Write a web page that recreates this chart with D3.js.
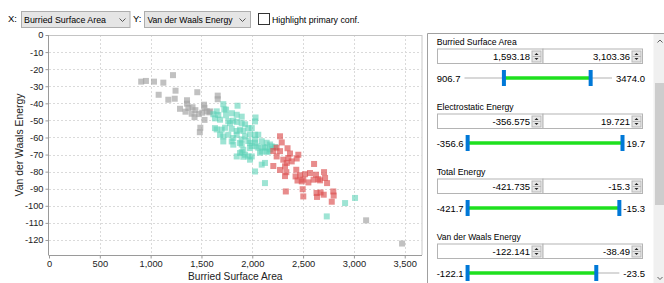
<!DOCTYPE html>
<html><head><meta charset="utf-8">
<script src="https://cdn.jsdelivr.net/npm/d3@7"></script>
<style>
html,body{margin:0;padding:0;background:#fff;overflow:hidden;}
svg{display:block;font-family:"Liberation Sans",Arial,sans-serif;}
</style></head><body>
<svg id="c" width="664" height="283"></svg>
<script>
// ---------- data ----------
const xTicks = [0, 500, 1000, 1500, 2000, 2500, 3000, 3500];
const yTicks = [0, -10, -20, -30, -40, -50, -60, -70, -80, -90, -100, -110, -120];

const grayX = [907,954,1033,1125,1220,1079,1174,1245,1237,1358,1358,1459,1289,1343,1371,1412,1440,1404,1432,1471,1508,1530,1525,1530,1552,1585,1577,1660,1660,1489,1484,3120,3474];
const grayY = [-27.3,-26.9,-27.3,-27.9,-23.5,-35.0,-37.9,-32.6,-37.3,-38.2,-40.2,-33.5,-43.2,-44.9,-42.7,-42.3,-44.0,-46.1,-48.1,-46.3,-45.5,-49.7,-40.8,-42.6,-44.7,-44.7,-45.3,-35.5,-37.6,-54.3,-56.9,-108.5,-122.1];

const tealX = [1715,1855,1725,1742,1617,1666,1650,1742,1801,1847,1896,2032,1633,1683,1764,1813,1847,1896,1929,1781,2027,1650,1699,1732,1798,1847,1879,1912,1961,1995,1633,1683,1715,1764,1813,1847,1896,1929,1961,1978,2027,2059,1715,1798,1879,1978,2027,2027,2093,2142,2175,1813,1896,1912,1995,2044,2059,2109,2125,2175,2191,2224,1896,1978,1879,1929,1912,1961,1995,2076,2142,2093,2158,1847,1978,2125,2093,2027,2125,2913,3011,2733];
const tealY = [-40.5,-41.4,-43.6,-43.7,-46.4,-46.8,-44.7,-47.0,-45.8,-46.7,-47.8,-48.3,-48.8,-49.6,-50.4,-50.2,-50.9,-51.5,-52.3,-51.6,-50.6,-55.3,-55.4,-54.3,-54.9,-56.2,-55.4,-56.2,-54.5,-54.5,-54.5,-58.4,-59.4,-58.4,-60.3,-58.4,-61.1,-59.4,-62.1,-58.2,-58.4,-58.4,-62.3,-62.3,-63.2,-63.2,-61.3,-63.1,-62.2,-63.1,-64.1,-64.2,-64.1,-67.2,-65.0,-65.2,-66.0,-65.6,-66.0,-67.0,-65.2,-65.6,-68.6,-66.2,-69.1,-70.1,-71.3,-71.1,-71.1,-68.9,-68.3,-68.2,-68.2,-71.1,-73.0,-74.9,-75.9,-79.9,-86.7,-98.4,-95.4,-106.2];

const redX = [2273,2290,2239,2207,2273,2347,2371,2453,2240,2305,2355,2388,2437,2339,2207,2273,2322,2335,2322,2433,2426,2470,2519,2568,2608,2627,2706,2445,2487,2502,2552,2603,2650,2667,2716,2736,2496,2330,2502,2632,2672,2637,2703,2797,2801,2782];
const redY = [-59.3,-62.9,-66.0,-67.9,-68.0,-66.3,-69.4,-70.1,-71.1,-73.0,-72.0,-74.0,-72.3,-74.9,-76.7,-79.0,-76.9,-80.3,-82.6,-78.9,-82.8,-82.1,-81.5,-80.8,-75.5,-81.8,-80.3,-85.2,-85.7,-84.7,-86.3,-84.7,-84.4,-85.1,-83.7,-86.7,-90.3,-91.6,-94.5,-92.5,-92.2,-94.8,-93.5,-91.6,-94.0,-97.6];

const filterNames = ["Burried Surface Area", "Electrostatic Energy", "Total Energy", "Van der Waals Energy"];
const filterMin = [906.7, -356.6, -421.7, -122.1];
const filterMax = [3474.0, 19.7, -15.3, -23.5];
const selLow = [1593.18, -356.575, -421.735, -122.141];
const selHigh = [3103.36, 19.721, -15.3, -38.49];
const selLowText = ["1,593.18", "-356.575", "-421.735", "-122.141"];
const selHighText = ["3,103.36", "19.721", "-15.3", "-38.49"];
const minText = ["906.7", "-356.6", "-421.7", "-122.1"];
const maxText = ["3474.0", "19.7", "-15.3", "-23.5"];

const xAxisTitle = "Burried Surface Area";
const yAxisTitle = "Van der Waals Energy";

// ---------- chart ----------
const svg = d3.select("#c");
const L = 49, R = 421.5, T = 35, B = 255;
const x = d3.scaleLinear().domain([0, 3665]).range([L, R]);
const y = d3.scaleLinear().domain([-128.8, 0]).range([B, T]);

// grid
const grid = svg.append("g");
grid.selectAll("line.v").data(xTicks.filter(d => d > 0)).join("line")
  .attr("x1", d => Math.round(x(d)) + 0.5).attr("x2", d => Math.round(x(d)) + 0.5)
  .attr("y1", T).attr("y2", B)
  .attr("stroke", "#dadada").attr("stroke-dasharray", "2,2");
grid.selectAll("line.h").data(yTicks.filter(d => d < 0)).join("line")
  .attr("y1", d => Math.round(y(d)) + 0.5).attr("y2", d => Math.round(y(d)) + 0.5)
  .attr("x1", L).attr("x2", R)
  .attr("stroke", "#dadada").attr("stroke-dasharray", "2,2");

// frame top/right
svg.append("line").attr("x1", L).attr("x2", R + 0.5).attr("y1", T + 0.5).attr("y2", T + 0.5).attr("stroke", "#c4c4c4");
svg.append("line").attr("x1", R + 0.5).attr("x2", R + 0.5).attr("y1", T).attr("y2", B).attr("stroke", "#c8c8c8");

// points
function drawPts(xs, ys, color, op) {
  svg.append("g").selectAll("rect").data(xs.map((v, i) => [v, ys[i]])).join("rect")
    .attr("x", d => x(d[0]) - 3).attr("y", d => y(d[1]) - 3)
    .attr("width", 6).attr("height", 6)
    .attr("fill", color).attr("fill-opacity", op);
}
drawPts(grayX, grayY, "#a4a4a4", 0.68);
drawPts(tealX, tealY, "#5ed2b7", 0.6);
drawPts(redX, redY, "#dc4e4e", 0.65);

// axes
const ax = svg.append("g").attr("transform", `translate(0,${B + 0.5})`)
  .call(d3.axisBottom(x).tickValues(xTicks).tickFormat(d3.format(",")).tickSize(3).tickPadding(2));
const ay = svg.append("g").attr("transform", `translate(${L - 0.5},0)`)
  .call(d3.axisLeft(y).tickValues(yTicks).tickFormat(d => String(d)).tickSize(3).tickPadding(2));
[ax, ay].forEach(g => {
  g.select(".domain").attr("stroke", "#9a9a9a");
  g.selectAll(".tick line").attr("stroke", "#9a9a9a");
  g.selectAll(".tick text").attr("fill", "#222").style("font-size", "9.3px").style("font-family", '"Liberation Sans",Arial,sans-serif');
});
ax.select(".domain").attr("d", `M${L},0H${R + 0.5}`);
ay.select(".domain").attr("d", `M0,${T}V${B + 0.5}`);

svg.append("text").attr("x", (L + R) / 2).attr("y", 279.5).attr("text-anchor", "middle")
  .style("font-size", "10.2px").attr("fill", "#222").text(xAxisTitle);
svg.append("text").attr("transform", `translate(22.5,${(T + B) / 2}) rotate(-90)`).attr("text-anchor", "middle")
  .style("font-size", "10.4px").attr("fill", "#222").text(yAxisTitle);

// ---------- toolbar ----------
const ui = svg.append("g").style("font-family", '"Liberation Sans",Arial,sans-serif');
function uiText(g, tx, ty, s, len, size, anchor) {
  const t = g.append("text").attr("x", tx).attr("y", ty).attr("fill", "#000")
    .style("font-size", (size || 9.5) + "px").text(s);
  if (anchor) t.attr("text-anchor", anchor);
  if (len) t.attr("textLength", len).attr("lengthAdjust", "spacingAndGlyphs");
  return t;
}
uiText(ui, 8, 22, "X:", null);
ui.append("rect").attr("x", 21.5).attr("y", 11.5).attr("width", 108.5).attr("height", 16).attr("fill", "#e5e5e5").attr("stroke", "#adadad");
uiText(ui, 24, 22.5, "Burried Surface Area", 82);
ui.append("path").attr("d", "M119.5,18.5 l3,3 l3,-3").attr("fill", "none").attr("stroke", "#555");
uiText(ui, 133, 22, "Y:", null);
ui.append("rect").attr("x", 144.5).attr("y", 11.5).attr("width", 106).attr("height", 16).attr("fill", "#e5e5e5").attr("stroke", "#adadad");
uiText(ui, 147.5, 22.5, "Van der Waals Energy", 85);
ui.append("path").attr("d", "M239.5,18.5 l3,3 l3,-3").attr("fill", "none").attr("stroke", "#555");
ui.append("rect").attr("x", 258.5).attr("y", 13.5).attr("width", 11).attr("height", 11).attr("fill", "#fff").attr("stroke", "#333");
uiText(ui, 272, 22.5, "Highlight primary conf.", 87.5);

// ---------- filter panel ----------
const P = svg.append("g").style("font-family", '"Liberation Sans",Arial,sans-serif');
P.append("line").attr("x1", 427.5).attr("x2", 427.5).attr("y1", 33.5).attr("y2", 283).attr("stroke", "#a0a0a0");
P.append("line").attr("x1", 427.5).attr("x2", 664).attr("y1", 33.5).attr("y2", 33.5).attr("stroke", "#a0a0a0");
// scrollbar
P.append("rect").attr("x", 653.5).attr("y", 34).attr("width", 10.5).attr("height", 249).attr("fill", "#f0f0f0");
P.append("rect").attr("x", 655).attr("y", 83).attr("width", 9).attr("height", 122).attr("fill", "#cdcdcd");
P.append("path").attr("d", "M657.5,42.5 l2.5,-2.5 l2.5,2.5").attr("fill", "none").attr("stroke", "#606060");
P.append("path").attr("d", "M657.5,277 l2.5,2.5 l2.5,-2.5").attr("fill", "none").attr("stroke", "#606060");

const labelLens = [80, 77, 48.7, 84];
function spinner(g, sx, sy) {
  g.append("rect").attr("x", sx + 0.5).attr("y", sy + 0.5).attr("width", 9).attr("height", 11).attr("fill", "#e6e6e6").attr("stroke", "#b8b8b8");
  g.append("line").attr("x1", sx + 1).attr("x2", sx + 9.5).attr("y1", sy + 6).attr("y2", sy + 6).attr("stroke", "#b8b8b8");
  g.append("path").attr("d", `M${sx + 3},${sy + 4.5} L${sx + 5},${sy + 2.5} L${sx + 7},${sy + 4.5}Z`).attr("fill", "#222");
  g.append("path").attr("d", `M${sx + 3},${sy + 7.5} L${sx + 5},${sy + 9.5} L${sx + 7},${sy + 7.5}Z`).attr("fill", "#222");
}
filterNames.forEach((name, i) => {
  const base = 45 + i * 65;
  const g = P.append("g");
  uiText(g, 436.7, base, name, labelLens[i]);
  const bt = base + 3.5, bh = 14.5;
  g.append("rect").attr("x", 437.5).attr("y", bt + 0.5).attr("width", 105.5).attr("height", bh).attr("fill", "#fff").attr("stroke", "#b4b4b4");
  g.append("rect").attr("x", 543).attr("y", bt + 0.5).attr("width", 99.5).attr("height", bh).attr("fill", "#fff").attr("stroke", "#b4b4b4");
  spinner(g, 531.5, bt + 2);
  spinner(g, 631.5, bt + 2);
  uiText(g, 530, bt + 11, selLowText[i], null, 9.5, "end");
  uiText(g, 630, bt + 11, selHighText[i], null, 9.5, "end");
  // slider
  const cy = base + 33;
  const lt = uiText(g, 436.7, cy + 3.5, minText[i], null, 9.5);
  const rt = uiText(g, 645, cy + 3.5, maxText[i], null, 9.5, "end");
  const lw = lt.node().getComputedTextLength();
  const rw = rt.node().getComputedTextLength();
  const s = d3.scaleLinear().domain([filterMin[i], filterMax[i]]).range([436.7 + lw + 4, 645 - rw - 4]);
  g.append("line").attr("x1", s.range()[0]).attr("x2", s.range()[1]).attr("y1", cy).attr("y2", cy)
    .attr("stroke", "#d8d8d8").attr("stroke-width", 2);
  g.append("line").attr("x1", s(selLow[i])).attr("x2", s(selHigh[i])).attr("y1", cy).attr("y2", cy)
    .attr("stroke", "#1ee01e").attr("stroke-width", 3.5);
  [selLow[i], selHigh[i]].forEach(v => {
    g.append("rect").attr("x", s(v) - 2).attr("y", cy - 8).attr("width", 4).attr("height", 16).attr("fill", "#0078d7");
  });
});
</script>
</body></html>
